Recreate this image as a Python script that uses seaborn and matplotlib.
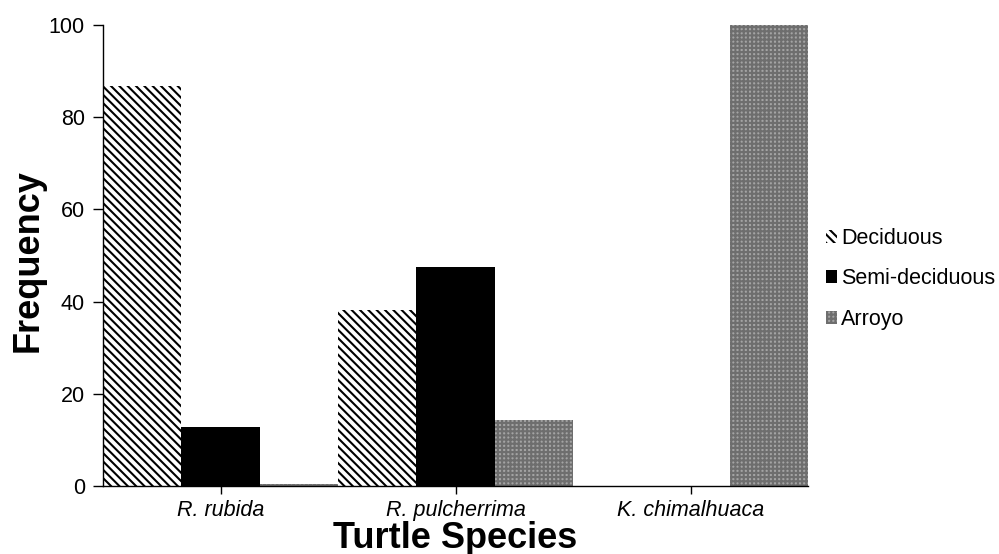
import matplotlib
matplotlib.use("Agg")
import matplotlib.pyplot as plt
import seaborn as sns
import pandas as pd
from matplotlib.patches import Patch

species = ["R. rubida", "R. pulcherrima", "K. chimalhuaca"]
habitats = ["Deciduous", "Semi-deciduous", "Arroyo"]
deciduous = [86.7, 38.1, 0.0]
semi_deciduous = [12.8, 47.6, 0.0]
arroyo = [0.5, 14.3, 100.0]

rows = []
for h, vals in zip(habitats, [deciduous, semi_deciduous, arroyo]):
    for s, v in zip(species, vals):
        rows.append({"species": s, "habitat": h, "freq": v})
df = pd.DataFrame(rows)

sns.set_style("white")
plt.rcParams["font.family"] = ["Liberation Sans", "DejaVu Sans"]
plt.rcParams["hatch.linewidth"] = 1.5
plt.rcParams["text.color"] = "black"
plt.rcParams["axes.labelcolor"] = "black"
plt.rcParams["xtick.color"] = "black"
plt.rcParams["ytick.color"] = "black"

fig = plt.figure(figsize=(9.99, 5.54), dpi=100)
ax = fig.add_axes([103/999, 68/554, (808-103)/999, (486-25)/554])

sns.barplot(data=df, x="species", y="freq", hue="habitat", order=species,
            hue_order=habitats, width=1.0, gap=0, ax=ax, legend=False,
            errorbar=None, edgecolor="none", linewidth=0)

styles = {
    "Deciduous": dict(facecolor="white", hatch="\\" * 4, edgecolor="black"),
    "Semi-deciduous": dict(facecolor="black", hatch=None, edgecolor="black"),
    "Arroyo": dict(facecolor="#a4a4a4", hatch="+" * 4, edgecolor="#6e6e6e"),
}
for cont, h in zip(ax.containers, habitats):
    st = styles[h]
    for bar in cont:
        bar.set_facecolor(st["facecolor"])
        bar.set_edgecolor(st["edgecolor"])
        bar.set_linewidth(0)
        if st["hatch"]:
            bar.set_hatch(st["hatch"])

ax.set_xlim(-0.5, 2.5)
ax.set_ylim(0, 100)
ax.set_yticks([0, 20, 40, 60, 80, 100])
ax.tick_params(axis="y", labelsize=15.5, length=7, width=1, direction="out", left=True, pad=6)
ax.tick_params(axis="x", labelsize=15.5, length=6, width=1, direction="out", bottom=True, pad=4)
for lab in ax.get_xticklabels():
    lab.set_fontstyle("italic")
for sp in ["top", "right"]:
    ax.spines[sp].set_visible(False)
for sp in ["left", "bottom"]:
    ax.spines[sp].set_color("black")
    ax.spines[sp].set_linewidth(1)

ax.set_xlabel("Turtle Species", fontsize=26, fontweight="bold", labelpad=0)
ax.set_ylabel("Frequency", fontsize=26, fontweight="bold", va="center")
ax.yaxis.set_label_coords((28 - 103) / 705, 0.49)

handles = [Patch(facecolor=styles[h]["facecolor"], edgecolor=styles[h]["edgecolor"],
                 hatch=styles[h]["hatch"], linewidth=0, label=h) for h in habitats]
fig.legend(handles=handles, loc="center left", bbox_to_anchor=(826/999, 1 - 279/554),
           frameon=False, fontsize=15.5, handlelength=0.5, handleheight=0.55,
           handletextpad=0.2, labelspacing=0.9, borderaxespad=0, borderpad=0)

fig.savefig("out.png", dpi=100)
